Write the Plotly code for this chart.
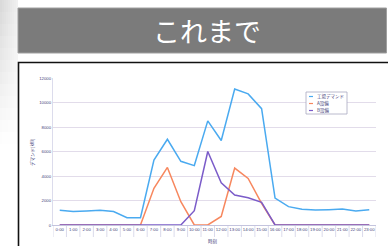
import plotly.graph_objects as go

W, H = 388, 246

hours = [f"{h}:00" for h in range(24)]
demand = [1200, 1100, 1150, 1200, 1100, 600, 600, 5300, 7000, 5200, 4850, 8500,
          6900, 11100, 10700, 9500, 2200, 1500, 1280, 1220, 1250, 1300, 1140, 1250]
equip_a = [0, 0, 0, 0, 0, 0, 0, 3000, 4700, 1900, 0, 0,
           700, 4650, 3800, 1770, 0, 0, 0, 0, 0, 0, 0, 0]
equip_b = [0, 0, 0, 0, 0, 0, 0, 0, 0, 0, 1170, 6000,
           3450, 2450, 2230, 1850, 0, 0, 0, 0, 0, 0, 0, 0]
y_ticks = [0, 2000, 4000, 6000, 8000, 10000, 12000]
series_names = ["工場デマンド", "A設備", "B設備"]
series_colors = ["#4aaaf0", "#f7875e", "#7b5cc9"]
title_text = "これまで"
JP = "Noto Sans CJK JP"
LABEL = "#44447a"


def px(x):
    return x / W


def py(y):
    return 1 - y / H


fig = go.Figure()
for name, vals, col in zip(series_names, [demand, equip_a, equip_b], series_colors):
    fig.add_trace(go.Scatter(x=hours, y=vals, name=name, mode="lines",
                             line=dict(color=col, width=1.5), showlegend=False,
                             hoverinfo="skip"))

shapes = []
# soft grey gradient in the upper-left corner
nx, ny = 9, 12
for i in range(nx):
    for j in range(ny):
        fx = 1 - (i + 0.5) / nx
        fy = 1 - (j + 0.5) / ny
        v = int(round(255 - 40 * (0.35 + 0.65 * fx) * fy))
        c = f"rgb({v},{v},{v})"
        shapes.append(dict(type="rect", xref="paper", yref="paper", layer="below",
                           x0=px(i * 2), x1=px(i * 2 + 2),
                           y0=py((j + 1) * 12), y1=py(j * 12),
                           fillcolor=c, line=dict(width=0)))
# title bar
shapes.append(dict(type="rect", xref="paper", yref="paper", layer="below",
                   x0=px(18), x1=px(386.5), y0=py(53), y1=py(8),
                   fillcolor="#7b7b7b", line=dict(color="#a0a0a0", width=1)))
# white panel with black border
shapes.append(dict(type="rect", xref="paper", yref="paper", layer="below",
                   x0=px(18.5), x1=px(400), y0=py(270), y1=py(62.5),
                   fillcolor="white", line=dict(color="#111111", width=1.6)))

# category separators through the label row
for i in range(len(hours) + 1):
    shapes.append(dict(type="line", xref="x", yref="paper", layer="below",
                       x0=i - 0.5, x1=i - 0.5, y0=py(237), y1=py(225),
                       line=dict(color="#d2d2e6", width=0.8)))

# hand-drawn legend box (plotly's own legend has a 16px minimum row height)
lx0, ly0, lx1, ly1 = 306, 92, 347, 114
shapes.append(dict(type="rect", xref="paper", yref="paper", layer="above",
                   x0=px(lx0), x1=px(lx1), y0=py(ly1), y1=py(ly0),
                   fillcolor="white", line=dict(color="#a8a8c0", width=0.8)))
annotations = []
for k, (name, col) in enumerate(zip(series_names, series_colors)):
    yy = 96.5 + k * 7
    shapes.append(dict(type="line", xref="paper", yref="paper", layer="above",
                       x0=px(309), x1=px(313), y0=py(yy), y1=py(yy),
                       line=dict(color=col, width=1.2)))
    annotations.append(dict(text=name, xref="paper", yref="paper", x=px(315), y=py(yy),
                            xanchor="left", yanchor="middle", showarrow=False,
                            font=dict(size=4.5, color=LABEL, family=JP)))

annotations += [
    dict(text=title_text, xref="paper", yref="paper", x=px(207), y=py(31),
         xanchor="center", yanchor="middle", showarrow=False,
         font=dict(size=27, color="white", family=JP)),
    dict(text="デマンド[kW]", xref="paper", yref="paper", x=px(32), y=py(152),
         xanchor="center", yanchor="middle", showarrow=False, textangle=-90,
         font=dict(size=4.5, color=LABEL, family=JP)),
    dict(text="時刻", xref="paper", yref="paper", x=px(213), y=py(241),
         xanchor="center", yanchor="middle", showarrow=False,
         font=dict(size=4.5, color=LABEL, family=JP)),
]

fig.update_layout(
    template="none",
    width=W, height=H,
    margin=dict(l=0, r=0, t=0, b=0, pad=0),
    paper_bgcolor="white", plot_bgcolor="rgba(0,0,0,0)",
    showlegend=False,
    hovermode=False,
    shapes=shapes,
    annotations=annotations,
    xaxis=dict(domain=[px(53), px(376)], automargin=False, type="category",
               range=[-0.5, 23.5], showgrid=False, zeroline=False,
               showline=True, linecolor="#c4c4de", linewidth=1,
               ticks="", ticklen=0, tickangle=0,
               tickfont=dict(size=4.3, color=LABEL, family="Liberation Sans")),
    yaxis=dict(domain=[py(225), py(78)], automargin=False, range=[0, 12000],
               tickvals=y_ticks, ticktext=[str(v) for v in y_ticks],
               showgrid=True, gridcolor="#e2dcea", gridwidth=1, zeroline=False,
               showline=True, linecolor="#dcdcec", linewidth=1, ticks="",
               tickfont=dict(size=4.3, color=LABEL, family="Liberation Sans")),
)

fig.write_html("out.html", config={"displayModeBar": False, "staticPlot": True},
               post_script="document.body.style.margin='0px';document.body.style.padding='0px';")
